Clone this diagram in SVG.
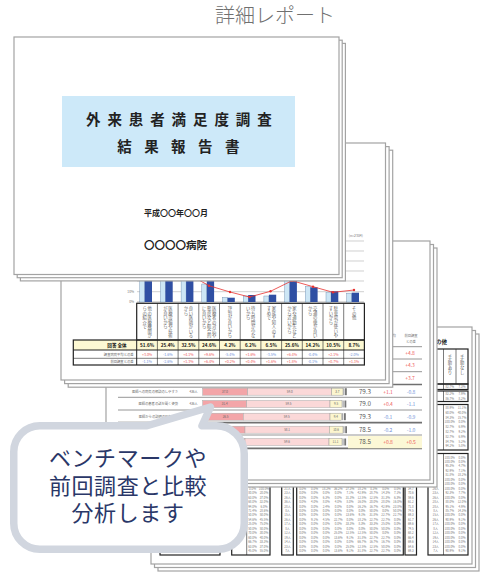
<svg xmlns="http://www.w3.org/2000/svg" width="480" height="574" viewBox="0 0 480 574">
<defs>
<style>
text{font-family:"Noto Sans CJK JP","Noto Sans",sans-serif}
.pg{fill:#fff;stroke:#a3a3a3;stroke-width:1.2}
.tiny{font-size:3px;fill:#7a7a7a;text-anchor:middle}
.vt{font-size:4.3px;fill:#666;text-anchor:middle}
.vt2{font-size:4.3px;fill:#555;text-anchor:middle}
.grid{stroke:#bcbcbc;stroke-width:0.7}
.bx{fill:none;stroke:#222;stroke-width:1.2}
.ln{stroke:#222;stroke-width:0.6}
.lb{fill:#cde6f5;stroke:#6585aa;stroke-width:0.4}
.db{fill:#2f4fa3}
.v1{font-size:4.6px;font-weight:700;fill:#111;text-anchor:middle}
.v2{font-size:3.6px;text-anchor:middle}
.red{fill:#ee5a5a}
.blu{fill:#7090d8}
.rl{font-size:3.3px;fill:#6a6a6a;text-anchor:end}
.bt{font-size:3px;fill:#666;text-anchor:middle}
.hd{font-size:3.3px;fill:#777;text-anchor:middle}
.dp{fill:#f3a5a8;stroke:#aaa;stroke-width:0.5}
.lp{fill:#fbd8d8;stroke:#aaa;stroke-width:0.5}
.yb{fill:#fcf6cf;stroke:#999;stroke-width:0.5}
.sc{font-size:6.3px;fill:#555;text-anchor:middle}
.df{font-size:5px;text-anchor:middle}
.sep{stroke:#8a8a8a;stroke-width:0.9}
.sepk{stroke:#707070;stroke-width:1.7}
.bub{font-size:22px;fill:#2a3768;text-anchor:middle;letter-spacing:0.6px}
</style>
</defs>
<rect width="480" height="574" fill="#fff"/>

<g id="title">
<text x="215" y="23" style="font-size:20px;fill:#707070;font-weight:300">詳細レポート</text>
</g>

<g id="page4">
<rect class="pg" x="158" y="334" width="321" height="237"/>
<rect class="pg" x="154.5" y="330.5" width="321" height="237"/>
<rect class="pg" x="151" y="327" width="321" height="237"/>
<text x="447" y="344" style="font-size:5.5px;font-weight:700;fill:#222;text-anchor:end">介助の有無その他</text>
<rect class="bx" x="428" y="349" width="40" height="35"/>
<line class="ln" x1="443.5" y1="349" x2="443.5" y2="384"/>
<line class="ln" x1="456" y1="349" x2="456" y2="384"/>
<text class="vt2" x="449.8 449.8 449.8 449.8" y="359 364 369 374">手助あり</text>
<text class="vt2" x="462.2 462.2 462.2 462.2" y="359 364 369 374">手助なし</text>
<rect class="bx" x="428" y="384" width="40" height="5.5"/>
<line class="ln" x1="443.5" y1="384" x2="443.5" y2="389.5"/>
<text class="tiny"><tspan x="449.7" y="388">82.7%</tspan><tspan x="462" y="388">7.3%</tspan></text>
<rect class="bx" x="428" y="391" width="40" height="10.5"/>
<line class="ln" x1="443.5" y1="391" x2="443.5" y2="401.5"/>
<text class="tiny"><tspan x="449.7" y="395">82.2%</tspan><tspan x="462" y="395">7.9%</tspan><tspan x="449.7" y="399.5">86.7%</tspan><tspan x="462" y="399.5">8.2%</tspan></text>
<rect class="bx" x="428" y="404.5" width="40" height="45.5"/>
<line class="ln" x1="443.5" y1="404.5" x2="443.5" y2="450"/>
<text class="tiny"><tspan x="449.7" y="409">88.9%</tspan><tspan x="462" y="409">11.1%</tspan><tspan x="449.7" y="413.8">60.0%</tspan><tspan x="462" y="413.8">40.0%</tspan><tspan x="449.7" y="418.6">84.3%</tspan><tspan x="462" y="418.6">15.7%</tspan><tspan x="449.7" y="423.4">100.0%</tspan><tspan x="462" y="423.4">0.0%</tspan><tspan x="449.7" y="428.2">82.7%</tspan><tspan x="462" y="428.2">6.9%</tspan><tspan x="449.7" y="433">82.7%</tspan><tspan x="462" y="433">9.2%</tspan><tspan x="449.7" y="437.8">82.7%</tspan><tspan x="462" y="437.8">6.9%</tspan><tspan x="449.7" y="442.6">84.7%</tspan><tspan x="462" y="442.6">5.2%</tspan><tspan x="449.7" y="447.4">94.2%</tspan><tspan x="462" y="447.4">5.8%</tspan></text>
<rect class="bx" x="428" y="453.5" width="40" height="101.5"/>
<line class="ln" x1="443.5" y1="453.5" x2="443.5" y2="555"/>
<text class="tiny"><tspan x="449.7" y="458.5">100.0%</tspan><tspan x="462" y="458.5">0.0%</tspan><tspan x="449.7" y="463">100.0%</tspan><tspan x="462" y="463">0.0%</tspan><tspan x="449.7" y="467.4">95.3%</tspan><tspan x="462" y="467.4">4.7%</tspan><tspan x="449.7" y="471.9">92.9%</tspan><tspan x="462" y="471.9">7.1%</tspan><tspan x="449.7" y="476.3">81.8%</tspan><tspan x="462" y="476.3">18.2%</tspan><tspan x="449.7" y="480.8">100.0%</tspan><tspan x="462" y="480.8">0.0%</tspan><tspan x="449.7" y="485.2">100.0%</tspan><tspan x="462" y="485.2">0.0%</tspan><tspan x="449.7" y="489.7">100.0%</tspan><tspan x="462" y="489.7">0.0%</tspan><tspan x="449.7" y="494.1">92.3%</tspan><tspan x="462" y="494.1">7.7%</tspan><tspan x="449.7" y="498.6">100.0%</tspan><tspan x="462" y="498.6">0.0%</tspan><tspan x="449.7" y="503">88.0%</tspan><tspan x="462" y="503">12.0%</tspan><tspan x="449.7" y="507.5">95.1%</tspan><tspan x="462" y="507.5">4.9%</tspan><tspan x="449.7" y="511.9">85.7%</tspan><tspan x="462" y="511.9">14.3%</tspan><tspan x="449.7" y="516.4">100.0%</tspan><tspan x="462" y="516.4">0.0%</tspan><tspan x="449.7" y="520.8">90.9%</tspan><tspan x="462" y="520.8">9.1%</tspan><tspan x="449.7" y="525.3">100.0%</tspan><tspan x="462" y="525.3">0.0%</tspan><tspan x="449.7" y="529.7">100.0%</tspan><tspan x="462" y="529.7">0.0%</tspan><tspan x="449.7" y="534.2">100.0%</tspan><tspan x="462" y="534.2">0.0%</tspan><tspan x="449.7" y="538.6">100.0%</tspan><tspan x="462" y="538.6">0.0%</tspan><tspan x="449.7" y="543.1">100.0%</tspan><tspan x="462" y="543.1">0.0%</tspan><tspan x="449.7" y="547.5">100.0%</tspan><tspan x="462" y="547.5">0.0%</tspan><tspan x="449.7" y="552">90.9%</tspan><tspan x="462" y="552">9.1%</tspan></text>
<text class="tiny"><tspan x="435.7" y="489.7">26人</tspan><tspan x="435.7" y="494.1">23人</tspan><tspan x="435.7" y="498.6">26人</tspan><tspan x="435.7" y="503">28人</tspan><tspan x="435.7" y="507.5">28人</tspan><tspan x="435.7" y="511.9">8人</tspan><tspan x="435.7" y="516.4">15人</tspan><tspan x="435.7" y="520.8">26人</tspan><tspan x="435.7" y="525.3">17人</tspan><tspan x="435.7" y="529.7">8人</tspan><tspan x="435.7" y="534.2">12人</tspan><tspan x="435.7" y="538.6">19人</tspan><tspan x="435.7" y="543.1">14人</tspan><tspan x="435.7" y="547.5">23人</tspan><tspan x="435.7" y="552">7人</tspan></text>
<rect class="bx" x="160" y="453.5" width="60" height="101.5"/>
<rect class="bx" x="231.7" y="453.5" width="38.3" height="101.5"/>
<line class="ln" x1="246.7" y1="453.5" x2="246.7" y2="555"/>
<text class="tiny"><tspan x="252.5" y="489.7">0.0%</tspan><tspan x="264" y="489.7">100.0%</tspan><tspan x="252.5" y="494.1">80.0%</tspan><tspan x="264" y="494.1">20.0%</tspan><tspan x="252.5" y="498.6">63.0%</tspan><tspan x="264" y="498.6">37.0%</tspan><tspan x="252.5" y="503">68.0%</tspan><tspan x="264" y="503">32.0%</tspan><tspan x="252.5" y="507.5">94.0%</tspan><tspan x="264" y="507.5">6.0%</tspan><tspan x="252.5" y="511.9">71.4%</tspan><tspan x="264" y="511.9">28.6%</tspan><tspan x="252.5" y="516.4">50.0%</tspan><tspan x="264" y="516.4">50.0%</tspan><tspan x="252.5" y="520.8">54.6%</tspan><tspan x="264" y="520.8">45.5%</tspan><tspan x="252.5" y="525.3">25.0%</tspan><tspan x="264" y="525.3">75.0%</tspan><tspan x="252.5" y="529.7">50.0%</tspan><tspan x="264" y="529.7">50.0%</tspan><tspan x="252.5" y="534.2">70.0%</tspan><tspan x="264" y="534.2">30.0%</tspan><tspan x="252.5" y="538.6">60.0%</tspan><tspan x="264" y="538.6">40.0%</tspan><tspan x="252.5" y="543.1">66.7%</tspan><tspan x="264" y="543.1">33.3%</tspan><tspan x="252.5" y="547.5">63.0%</tspan><tspan x="264" y="547.5">37.0%</tspan><tspan x="252.5" y="552">45.0%</tspan><tspan x="264" y="552">55.0%</tspan></text>
<rect class="bx" x="281.7" y="453.5" width="11.6" height="101.5"/>
<text class="tiny"><tspan x="287.5" y="489.7">21人</tspan><tspan x="287.5" y="494.1">23人</tspan><tspan x="287.5" y="498.6">26人</tspan><tspan x="287.5" y="503">36人</tspan><tspan x="287.5" y="507.5">28人</tspan><tspan x="287.5" y="511.9">8人</tspan><tspan x="287.5" y="516.4">15人</tspan><tspan x="287.5" y="520.8">26人</tspan><tspan x="287.5" y="525.3">17人</tspan><tspan x="287.5" y="529.7">8人</tspan><tspan x="287.5" y="534.2">12人</tspan><tspan x="287.5" y="538.6">19人</tspan><tspan x="287.5" y="543.1">14人</tspan><tspan x="287.5" y="547.5">23人</tspan><tspan x="287.5" y="552">7人</tspan></text>
<rect class="bx" x="296.7" y="453.5" width="106.6" height="101.5"/>
<text class="tiny"><tspan x="302.6" y="489.7">0.0%</tspan><tspan x="314.5" y="489.7">0.0%</tspan><tspan x="326.3" y="489.7">18.2%</tspan><tspan x="338.2" y="489.7">36.2%</tspan><tspan x="350" y="489.7">27.3%</tspan><tspan x="361.9" y="489.7">18.2%</tspan><tspan x="373.7" y="489.7">0.3%</tspan><tspan x="385.6" y="489.7">0.0%</tspan><tspan x="397.4" y="489.7">0.0%</tspan></text>
<text class="tiny"><tspan x="302.6" y="494.1">0.0%</tspan><tspan x="314.5" y="494.1">0.0%</tspan><tspan x="326.3" y="494.1">0.0%</tspan><tspan x="338.2" y="494.1">0.0%</tspan><tspan x="350" y="494.1">7.1%</tspan><tspan x="361.9" y="494.1">42.9%</tspan><tspan x="373.7" y="494.1">28.7%</tspan><tspan x="385.6" y="494.1">14.3%</tspan><tspan x="397.4" y="494.1">7.1%</tspan></text>
<text class="tiny"><tspan x="302.6" y="498.6">0.0%</tspan><tspan x="314.5" y="498.6">0.0%</tspan><tspan x="326.3" y="498.6">6.3%</tspan><tspan x="338.2" y="498.6">0.0%</tspan><tspan x="350" y="498.6">31.3%</tspan><tspan x="361.9" y="498.6">12.5%</tspan><tspan x="373.7" y="498.6">12.5%</tspan><tspan x="385.6" y="498.6">31.3%</tspan><tspan x="397.4" y="498.6">6.3%</tspan></text>
<text class="tiny"><tspan x="302.6" y="503">0.0%</tspan><tspan x="314.5" y="503">4.0%</tspan><tspan x="326.3" y="503">8.0%</tspan><tspan x="338.2" y="503">4.0%</tspan><tspan x="350" y="503">8.0%</tspan><tspan x="361.9" y="503">16.0%</tspan><tspan x="373.7" y="503">20.0%</tspan><tspan x="385.6" y="503">28.0%</tspan><tspan x="397.4" y="503">16.0%</tspan></text>
<text class="tiny"><tspan x="302.6" y="507.5">0.0%</tspan><tspan x="314.5" y="507.5">0.0%</tspan><tspan x="326.3" y="507.5">2.4%</tspan><tspan x="338.2" y="507.5">0.0%</tspan><tspan x="350" y="507.5">0.0%</tspan><tspan x="361.9" y="507.5">16.2%</tspan><tspan x="373.7" y="507.5">16.7%</tspan><tspan x="385.6" y="507.5">42.9%</tspan><tspan x="397.4" y="507.5">23.8%</tspan></text>
<text class="tiny"><tspan x="302.6" y="511.9">0.0%</tspan><tspan x="314.5" y="511.9">0.0%</tspan><tspan x="326.3" y="511.9">0.0%</tspan><tspan x="338.2" y="511.9">0.0%</tspan><tspan x="350" y="511.9">0.0%</tspan><tspan x="361.9" y="511.9">0.0%</tspan><tspan x="373.7" y="511.9">50.0%</tspan><tspan x="385.6" y="511.9">0.0%</tspan><tspan x="397.4" y="511.9">50.0%</tspan></text>
<text class="tiny"><tspan x="302.6" y="516.4">0.0%</tspan><tspan x="314.5" y="516.4">0.0%</tspan><tspan x="326.3" y="516.4">0.0%</tspan><tspan x="338.2" y="516.4">0.0%</tspan><tspan x="350" y="516.4">13.6%</tspan><tspan x="361.9" y="516.4">9.1%</tspan><tspan x="373.7" y="516.4">31.8%</tspan><tspan x="385.6" y="516.4">22.7%</tspan><tspan x="397.4" y="516.4">22.7%</tspan></text>
<text class="tiny"><tspan x="302.6" y="520.8">0.0%</tspan><tspan x="314.5" y="520.8">9.1%</tspan><tspan x="326.3" y="520.8">4.5%</tspan><tspan x="338.2" y="520.8">22.7%</tspan><tspan x="350" y="520.8">0.0%</tspan><tspan x="361.9" y="520.8">18.2%</tspan><tspan x="373.7" y="520.8">22.7%</tspan><tspan x="385.6" y="520.8">22.7%</tspan><tspan x="397.4" y="520.8">0.0%</tspan></text>
<text class="tiny"><tspan x="302.6" y="525.3">0.0%</tspan><tspan x="314.5" y="525.3">0.0%</tspan><tspan x="326.3" y="525.3">0.0%</tspan><tspan x="338.2" y="525.3">0.0%</tspan><tspan x="350" y="525.3">33.3%</tspan><tspan x="361.9" y="525.3">8.3%</tspan><tspan x="373.7" y="525.3">33.3%</tspan><tspan x="385.6" y="525.3">25.0%</tspan><tspan x="397.4" y="525.3">0.0%</tspan></text>
<text class="tiny"><tspan x="302.6" y="529.7">0.0%</tspan><tspan x="314.5" y="529.7">0.0%</tspan><tspan x="326.3" y="529.7">0.0%</tspan><tspan x="338.2" y="529.7">0.0%</tspan><tspan x="350" y="529.7">0.0%</tspan><tspan x="361.9" y="529.7">0.0%</tspan><tspan x="373.7" y="529.7">50.0%</tspan><tspan x="385.6" y="529.7">50.0%</tspan><tspan x="397.4" y="529.7">0.0%</tspan></text>
<text class="tiny"><tspan x="302.6" y="534.2">0.0%</tspan><tspan x="314.5" y="534.2">0.0%</tspan><tspan x="326.3" y="534.2">0.0%</tspan><tspan x="338.2" y="534.2">25.0%</tspan><tspan x="350" y="534.2">12.5%</tspan><tspan x="361.9" y="534.2">12.5%</tspan><tspan x="373.7" y="534.2">50.0%</tspan><tspan x="385.6" y="534.2">0.0%</tspan><tspan x="397.4" y="534.2">0.0%</tspan></text>
<text class="tiny"><tspan x="302.6" y="538.6">0.0%</tspan><tspan x="314.5" y="538.6">0.0%</tspan><tspan x="326.3" y="538.6">0.0%</tspan><tspan x="338.2" y="538.6">13.6%</tspan><tspan x="350" y="538.6">9.1%</tspan><tspan x="361.9" y="538.6">31.8%</tspan><tspan x="373.7" y="538.6">22.7%</tspan><tspan x="385.6" y="538.6">22.7%</tspan><tspan x="397.4" y="538.6">0.0%</tspan></text>
<text class="tiny"><tspan x="302.6" y="543.1">0.0%</tspan><tspan x="314.5" y="543.1">0.0%</tspan><tspan x="326.3" y="543.1">0.0%</tspan><tspan x="338.2" y="543.1">0.0%</tspan><tspan x="350" y="543.1">0.0%</tspan><tspan x="361.9" y="543.1">66.7%</tspan><tspan x="373.7" y="543.1">16.7%</tspan><tspan x="385.6" y="543.1">16.7%</tspan><tspan x="397.4" y="543.1">0.0%</tspan></text>
<text class="tiny"><tspan x="302.6" y="547.5">0.0%</tspan><tspan x="314.5" y="547.5">0.0%</tspan><tspan x="326.3" y="547.5">0.0%</tspan><tspan x="338.2" y="547.5">0.0%</tspan><tspan x="350" y="547.5">25.0%</tspan><tspan x="361.9" y="547.5">12.5%</tspan><tspan x="373.7" y="547.5">12.5%</tspan><tspan x="385.6" y="547.5">50.0%</tspan><tspan x="397.4" y="547.5">0.0%</tspan></text>
<text class="tiny"><tspan x="302.6" y="552">0.0%</tspan><tspan x="314.5" y="552">0.0%</tspan><tspan x="326.3" y="552">0.0%</tspan><tspan x="338.2" y="552">13.6%</tspan><tspan x="350" y="552">9.1%</tspan><tspan x="361.9" y="552">31.8%</tspan><tspan x="373.7" y="552">22.7%</tspan><tspan x="385.6" y="552">22.7%</tspan><tspan x="397.4" y="552">0.0%</tspan></text>
<rect class="bx" x="405" y="453.5" width="11.5" height="101.5"/>
<text class="tiny"><tspan x="410.8" y="489.7">34.7</tspan><tspan x="410.8" y="494.1">70.6</tspan><tspan x="410.8" y="498.6">59.6</tspan><tspan x="410.8" y="503">61.2</tspan><tspan x="410.8" y="507.5">71.8</tspan><tspan x="410.8" y="511.9">74.5</tspan><tspan x="410.8" y="516.4">69.3</tspan><tspan x="410.8" y="520.8">61.7</tspan><tspan x="410.8" y="525.3">69.6</tspan><tspan x="410.8" y="529.7">74.5</tspan><tspan x="410.8" y="534.2">68.2</tspan><tspan x="410.8" y="538.6">66.4</tspan><tspan x="410.8" y="543.1">69.6</tspan><tspan x="410.8" y="547.5">64.6</tspan><tspan x="410.8" y="552">69.3</tspan></text>
</g>

<g id="page3">
<rect class="pg" x="113" y="248" width="324" height="239"/>
<rect class="pg" x="109.5" y="244.5" width="324" height="239"/>
<rect class="pg" x="106" y="241" width="324" height="239"/>
<text class="hd" x="386" y="336.8">調査病院平均</text>
<text class="hd" x="388" y="343">との差</text>
<text class="hd" x="411" y="336.8">前回調査</text>
<text class="hd" x="411" y="343">との差</text>
<line class="sep" x1="118" y1="346.7" x2="422" y2="346.7"/>
<line class="sep" x1="118" y1="359" x2="422" y2="359"/>
<line class="sep" x1="118" y1="371.7" x2="422" y2="371.7"/>
<line class="sepk" x1="118" y1="384.5" x2="422" y2="384.5"/>
<line class="sep" x1="118" y1="397.3" x2="422" y2="397.3"/>
<line class="sep" x1="118" y1="410" x2="422" y2="410"/>
<line class="sepk" x1="118" y1="422.7" x2="422" y2="422.7"/>
<line class="sep" x1="118" y1="435" x2="422" y2="435"/>
<line class="sepk" x1="118" y1="448.3" x2="422" y2="448.3"/>
<text class="df red"><tspan x="410" y="354.5">+4.8</tspan><tspan x="410" y="367">+4.3</tspan><tspan x="410" y="379.5">+3.7</tspan></text>
<rect x="348" y="436" width="74" height="12.3" fill="#fcf8d6"/>
<g id="row-a">
<text class="rl" x="178" y="393">医師への病気の相談のしやすさ</text>
<text class="bt" x="193.5" y="393">436人</text>
<rect class="dp" x="202.7" y="388.2" width="45" height="7"/>
<rect class="lp" x="247.7" y="388.2" width="84" height="7"/>
<rect class="yb" x="331.7" y="388.2" width="11.3" height="7"/>
<rect x="343.2" y="388.2" width="1.3" height="7" fill="#aaa"/><rect x="345" y="388.2" width="1.8" height="7" fill="#777"/>
<text class="bt" x="225" y="392.8">37.0</text><text class="bt" x="289.7" y="392.8">59.0</text><text class="bt" x="337.3" y="392.8">3.7</text>
<text class="sc" x="365" y="394">79.3</text><text class="df red" x="388" y="393.5">+1.1</text><text class="df blu" x="411" y="393.5">-0.8</text>
</g>
<g id="row-b">
<text class="rl" x="178" y="405.3">医師の患者の話を聞く姿勢</text>
<text class="bt" x="193.5" y="405.3">436人</text>
<rect class="dp" x="202.7" y="400.5" width="44" height="7"/>
<rect class="lp" x="246.7" y="400.5" width="83.3" height="7"/>
<rect class="yb" x="330" y="400.5" width="12" height="7"/>
<rect x="342.5" y="400.5" width="1.3" height="7" fill="#aaa"/><rect x="344.5" y="400.5" width="1.8" height="7" fill="#777"/>
<text class="bt" x="224.7" y="405.1">31.4</text><text class="bt" x="288.4" y="405.1">59.5</text><text class="bt" x="336" y="405.1">9.5</text>
<text class="sc" x="365" y="406.3">79.0</text><text class="df red" x="388" y="405.8">+0.4</text><text class="df blu" x="411" y="405.8">-1.1</text>
</g>
<g id="row-c">
<text class="rl" x="175" y="418">医師からの説明の理解度</text>
<text class="bt" x="193.5" y="418">436人</text>
<rect class="dp" x="208" y="413.2" width="35.3" height="7"/>
<rect class="lp" x="243.3" y="413.2" width="86.7" height="7"/>
<rect class="yb" x="330" y="413.2" width="11.5" height="7"/>
<rect x="342" y="413.2" width="1.3" height="7" fill="#aaa"/><rect x="344" y="413.2" width="1.8" height="7" fill="#777"/>
<text class="bt" x="225.6" y="417.8">26.5</text><text class="bt" x="286.7" y="417.8">59.5</text><text class="bt" x="335.8" y="417.8">9.4</text>
<text class="sc" x="365" y="419">79.3</text><text class="df blu" x="388" y="418.5">-0.1</text><text class="df blu" x="411" y="418.5">-0.9</text>
</g>
<g id="row-d">
<rect class="dp" x="203" y="426.2" width="42" height="7"/>
<rect class="lp" x="245" y="426.2" width="84.3" height="7"/>
<rect class="yb" x="329.3" y="426.2" width="13.7" height="7"/>
<rect x="343.3" y="426.2" width="1.3" height="7" fill="#aaa"/><rect x="345.2" y="426.2" width="1.8" height="7" fill="#777"/>
<text class="bt" x="287.1" y="430.8">58.1</text><text class="bt" x="336.1" y="430.8">10.6</text>
<text class="sc" x="365" y="432">78.5</text><text class="df blu" x="388" y="431.5">-0.2</text><text class="df blu" x="411" y="431.5">-1.0</text>
</g>
<g id="row-e">
<rect class="dp" x="203" y="438.5" width="42" height="7"/>
<rect class="lp" x="245" y="438.5" width="84" height="7"/>
<rect class="yb" x="329" y="438.5" width="13" height="7"/>
<rect x="342.4" y="438.5" width="1.3" height="7" fill="#aaa"/><rect x="344.3" y="438.5" width="1.8" height="7" fill="#777"/>
<text class="bt" x="287" y="443.1">59.6</text><text class="bt" x="335.5" y="443.1">11.1</text>
<text class="sc" x="365" y="444.3">78.5</text><text class="df red" x="388" y="443.8">+0.8</text><text class="df red" x="411" y="443.8">+0.5</text>
</g>
</g>

<g id="page2">
<rect class="pg" x="68.2" y="150.2" width="324.5" height="237"/>
<rect class="pg" x="64.6" y="146.6" width="324.5" height="237"/>
<rect class="pg" x="61" y="143" width="324.5" height="237"/>
<text x="363" y="237" style="font-size:3.5px;fill:#777;text-anchor:end">(n=2304)</text>
<g class="grid">
<line x1="137" y1="241" x2="364" y2="241"/>
<line x1="137" y1="251" x2="364" y2="251"/>
<line x1="137" y1="261" x2="364" y2="261"/>
<line x1="137" y1="271" x2="364" y2="271"/>
<line x1="137" y1="281" x2="364" y2="281"/>
<line x1="137" y1="291.7" x2="364" y2="291.7"/>
<line x1="137" y1="302" x2="364" y2="302" stroke="#999"/>
</g>
<text style="font-size:3.3px;fill:#777;text-anchor:end"><tspan x="134" y="293">10%</tspan><tspan x="134" y="303.2">0%</tspan></text>
<g id="bars">
<rect class="lb" x="139.7" y="250" width="5" height="52"/><rect class="db" x="144.7" y="250" width="7.3" height="52"/>
<rect class="lb" x="160.4" y="262" width="5" height="40"/><rect class="db" x="165.4" y="276" width="7.3" height="26"/>
<rect class="lb" x="181.1" y="258" width="5" height="44"/><rect class="db" x="186.1" y="269" width="7.3" height="33"/>
<rect class="lb" x="201.8" y="284" width="5" height="18"/><rect class="db" x="206.8" y="277" width="7.3" height="25"/>
<rect class="lb" x="222.5" y="297.3" width="5" height="4.7"/><rect class="db" x="227.5" y="297.7" width="7.3" height="4.3"/>
<rect class="lb" x="243.2" y="296" width="5" height="6"/><rect class="db" x="248.2" y="295" width="7.3" height="7"/>
<rect class="lb" x="263.9" y="296" width="5" height="6"/><rect class="db" x="268.9" y="294.7" width="7.3" height="7.3"/>
<rect class="lb" x="284.6" y="268" width="5" height="34"/><rect class="db" x="289.6" y="276" width="7.3" height="26"/>
<rect class="lb" x="305.3" y="286.7" width="5" height="15.3"/><rect class="db" x="310.3" y="287.3" width="7.3" height="14.7"/>
<rect class="lb" x="326" y="292.7" width="5" height="9.3"/><rect class="db" x="331" y="291.3" width="7.3" height="10.7"/>
<rect class="lb" x="346.7" y="293.3" width="5" height="8.7"/><rect class="db" x="351.7" y="292.7" width="7.3" height="9.3"/>
</g>
<polyline points="147,262 168,268 188,274 209,285.7 230,292 249.5,297 270.5,291.3 292,280.7 313,286.7 333,292.3 354,290" fill="none" stroke="#e8312f" stroke-width="0.8"/>
<g fill="#e8312f">
<circle cx="209" cy="285.7" r="1.2"/><circle cx="230" cy="292" r="1.2"/><circle cx="249.5" cy="297" r="1.2"/><circle cx="270.5" cy="291.3" r="1.2"/><circle cx="292" cy="280.7" r="1.2"/><circle cx="313" cy="286.7" r="1.2"/><circle cx="333" cy="292.3" r="1.2"/><circle cx="354" cy="290" r="1.2"/>
</g>
<rect x="73.3" y="340" width="291" height="10" fill="#fdf9d3"/>
<g class="ln">
<line x1="157.4" y1="303.3" x2="157.4" y2="365"/><line x1="178.1" y1="303.3" x2="178.1" y2="365"/><line x1="198.8" y1="303.3" x2="198.8" y2="365"/><line x1="219.5" y1="303.3" x2="219.5" y2="365"/><line x1="240.2" y1="303.3" x2="240.2" y2="365"/><line x1="260.9" y1="303.3" x2="260.9" y2="365"/><line x1="281.6" y1="303.3" x2="281.6" y2="365"/><line x1="302.3" y1="303.3" x2="302.3" y2="365"/><line x1="323" y1="303.3" x2="323" y2="365"/><line x1="343.7" y1="303.3" x2="343.7" y2="365"/>
<line x1="73.3" y1="358.3" x2="364.4" y2="358.3"/>
</g>
<rect class="bx" x="136.7" y="303.3" width="227.7" height="36.7"/>
<rect class="bx" x="73.3" y="340" width="291.1" height="25"/>
<line x1="73.3" y1="350" x2="364.4" y2="350" stroke="#222" stroke-width="1.1"/>
<line x1="136.7" y1="340" x2="136.7" y2="365" stroke="#222" stroke-width="1"/>
<text class="vt" x="149.6 149.6 149.6 149.6 149.6 149.6 149.6" y="310 314.5 319 323.5 328 332.5 337">他の医療機関か</text>
<text class="vt" x="144.6 144.6 144.6 144.6 144.6" y="310 314.5 319 323.5 328">らの紹介で</text>
<text class="vt" x="170.3 170.3 170.3 170.3 170.3 170.3 170.3" y="310 314.5 319 323.5 328 332.5 337">医療設備や技術</text>
<text class="vt" x="165.3 165.3 165.3 165.3 165.3" y="310 314.5 319 323.5 328">が良いから</text>
<text class="vt" x="191 191 191 191 191 191 191" y="310 314.5 319 323.5 328 332.5 337">良い医師がいる</text>
<text class="vt" x="186 186" y="310 314.5">から</text>
<text class="vt" x="214.2 214.2 214.2 214.2 214.2 214.2 214.2" y="310 314.5 319 323.5 328 332.5 337">医療者の対応や</text>
<text class="vt" x="209.2 209.2 209.2 209.2 209.2 209.2 209.2" y="310 314.5 319 323.5 328 332.5 337">態度など総合的</text>
<text class="vt" x="204.2 204.2 204.2 204.2 204.2" y="310 314.5 319 323.5 328">に良いから</text>
<text class="vt" x="229.9 229.9 229.9 229.9 229.9 229.9 229.9" y="310 314.5 319 323.5 328 332.5 337">評判が良いから</text>
<text class="vt" x="253.1 253.1 253.1 253.1 253.1 253.1 253.1" y="310 314.5 319 323.5 328 332.5 337">待ち時間が少な</text>
<text class="vt" x="248.1 248.1 248.1" y="310 314.5 319">いから</text>
<text class="vt" x="273.8 273.8 273.8 273.8 273.8 273.8 273.8" y="310 314.5 319 323.5 328 332.5 337">家族や知人のす</text>
<text class="vt" x="268.8 268.8 268.8" y="310 314.5 319">すめで</text>
<text class="vt" x="294.5 294.5 294.5 294.5 294.5 294.5 294.5" y="310 314.5 319 323.5 328 332.5 337">家や通勤先など</text>
<text class="vt" x="289.5 289.5 289.5 289.5 289.5 289.5" y="310 314.5 319 323.5 328 332.5">から近いから</text>
<text class="vt" x="315.2 315.2 315.2 315.2 315.2 315.2 315.2" y="310 314.5 319 323.5 328 332.5 337">交通の便が良い</text>
<text class="vt" x="310.2 310.2" y="310 314.5">から</text>
<text class="vt" x="335.9 335.9 335.9 335.9 335.9 335.9 335.9" y="310 314.5 319 323.5 328 332.5 337">駐車場が使いや</text>
<text class="vt" x="330.9 330.9 330.9 330.9" y="310 314.5 319 323.5">すいから</text>
<text class="vt" x="354.1 354.1 354.1" y="310 314.5 319">その他</text>
<text x="117" y="346.7" style="font-size:4.6px;font-weight:700;fill:#111;text-anchor:middle">回答 全体</text>
<text class="rl" x="133.5" y="355.6">調査病院平均との差</text>
<text class="rl" x="133.5" y="362.9">前回調査との差</text>
<text class="v1"><tspan x="147.05" y="346.8">51.6%</tspan><tspan x="167.75" y="346.8">25.4%</tspan><tspan x="188.45" y="346.8">32.5%</tspan><tspan x="209.15" y="346.8">24.6%</tspan><tspan x="229.85" y="346.8">4.2%</tspan><tspan x="250.55" y="346.8">6.2%</tspan><tspan x="271.25" y="346.8">6.5%</tspan><tspan x="291.95" y="346.8">25.6%</tspan><tspan x="312.65" y="346.8">14.2%</tspan><tspan x="333.35" y="346.8">10.5%</tspan><tspan x="354.05" y="346.8">8.7%</tspan></text>
<text class="v2"><tspan class="red" x="147.05" y="355.6">+3.0%</tspan><tspan class="blu" x="167.75" y="355.6">-1.6%</tspan><tspan class="red" x="188.45" y="355.6">+4.1%</tspan><tspan class="red" x="209.15" y="355.6">+9.6%</tspan><tspan class="blu" x="229.85" y="355.6">-5.4%</tspan><tspan class="red" x="250.55" y="355.6">+1.6%</tspan><tspan class="blu" x="271.25" y="355.6">-3.5%</tspan><tspan class="red" x="291.95" y="355.6">+6.4%</tspan><tspan class="blu" x="312.65" y="355.6">-0.4%</tspan><tspan class="red" x="333.35" y="355.6">+2.1%</tspan><tspan class="blu" x="354.05" y="355.6">-2.0%</tspan></text>
<text class="v2"><tspan class="blu" x="147.05" y="362.9">-1.1%</tspan><tspan class="blu" x="167.75" y="362.9">-2.6%</tspan><tspan class="red" x="188.45" y="362.9">+1.3%</tspan><tspan class="red" x="209.15" y="362.9">+6.4%</tspan><tspan class="red" x="229.85" y="362.9">+0.2%</tspan><tspan class="red" x="250.55" y="362.9">+0.4%</tspan><tspan class="red" x="271.25" y="362.9">+1.6%</tspan><tspan class="red" x="291.95" y="362.9">+1.8%</tspan><tspan class="blu" x="312.65" y="362.9">-0.1%</tspan><tspan class="red" x="333.35" y="362.9">+0.7%</tspan><tspan class="red" x="354.05" y="362.9">+1.1%</tspan></text>
</g>

<g id="cover">
<rect class="pg" x="20.4" y="43.4" width="325" height="237.5"/>
<rect class="pg" x="17.2" y="40.2" width="325" height="237.5"/>
<rect class="pg" x="14" y="37" width="325" height="237.5"/>
<rect x="62" y="96" width="233" height="71" fill="#cde9f9"/>
<text x="86 107.4 128.8 150.2 171.6 193 214.4 235.8 257.2" y="125.2" style="font-size:14.5px;font-weight:700;fill:#222">外来患者満足度調査</text>
<text x="117.3 144.2 171.1 198 224.9" y="151.8" style="font-size:14.5px;font-weight:700;fill:#222">結果報告書</text>
<text x="144" y="215.8" style="font-size:8px;font-weight:700;fill:#222">平成〇〇年〇〇月</text>
<text x="144" y="248.8" style="font-size:10.5px;font-weight:700;fill:#222">〇〇〇〇病院</text>
</g>

<g id="bubble">
<path d="M39.75 425.75 L147 425.75 L210.5 407 L202 425.75 L216 425.75 A28 28 0 0 1 244.25 453.75 L244.25 523.25 A26 26 0 0 1 218.25 549.25 L39.75 549.25 A26 26 0 0 1 13.75 523.25 L13.75 451.75 A26 26 0 0 1 39.75 425.75 Z" fill="#fff" stroke="#d1d6df" stroke-width="7.5" stroke-linejoin="round"/>
<text class="bub" x="128" y="466">ベンチマークや</text>
<text class="bub" x="128" y="493.5">前回調査と比較</text>
<text class="bub" x="128" y="520.5">分析します</text>
</g>
<g id="connectors"></g>
</svg>
